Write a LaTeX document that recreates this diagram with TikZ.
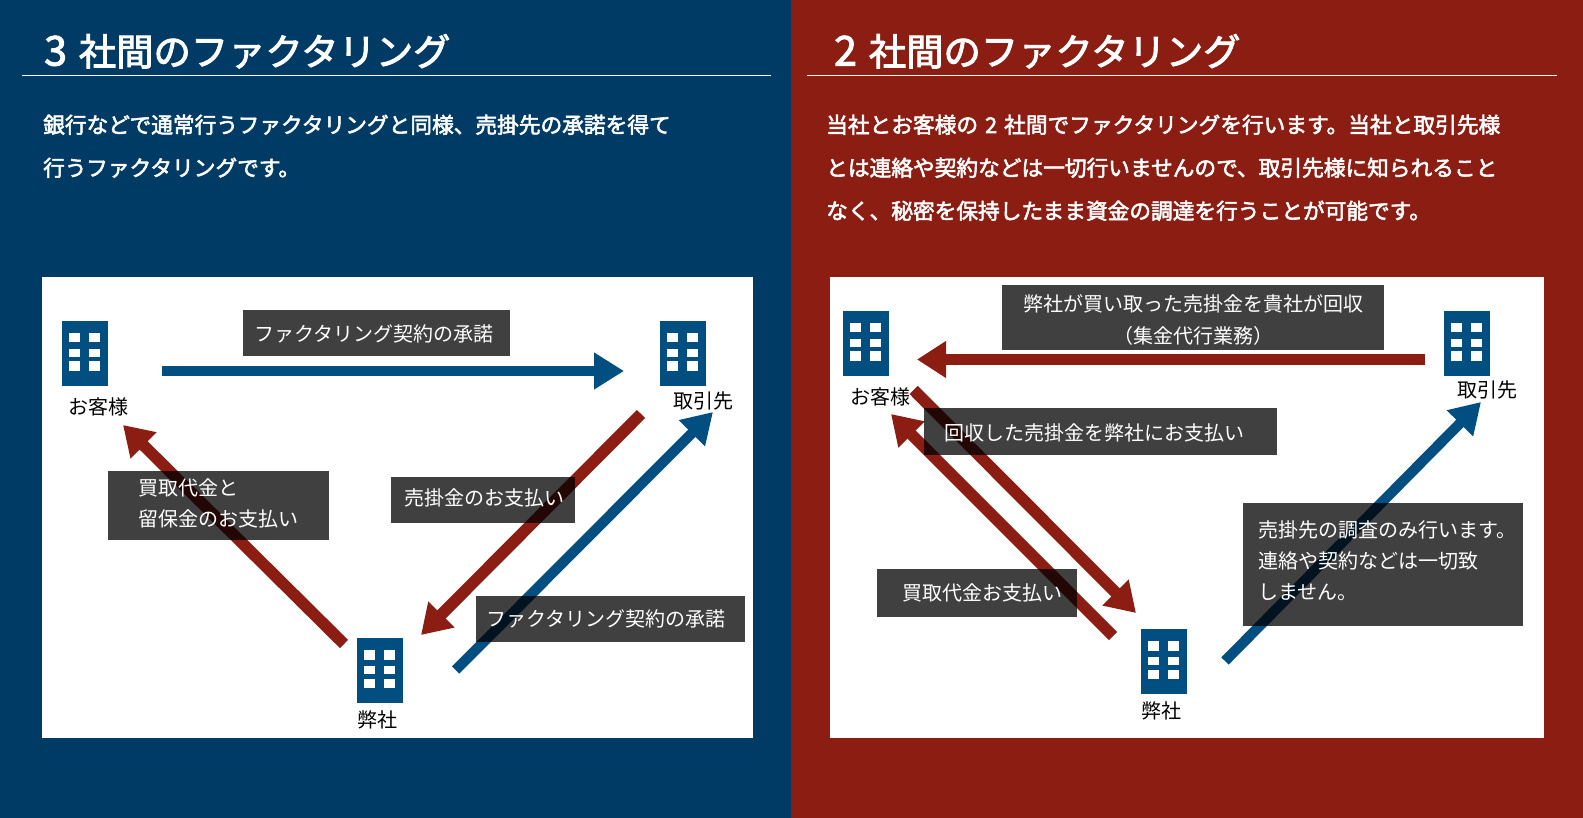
\documentclass[tikz,border=0pt]{standalone}
\usepackage{fontspec}
\setmainfont{Noto Sans CJK JP}
\newfontfamily\semibold[FakeBold=2.5]{Noto Sans CJK JP}
\usetikzlibrary{arrows.meta}
\definecolor{navybg}{HTML}{003B66}
\definecolor{redbg}{HTML}{8C1D12}
\definecolor{arrowblue}{HTML}{004F80}
\tikzset{
  panel/.style={fill=#1,draw=none},
  sheet/.style={fill=white,draw=none},
  rulew/.style={draw=white,line width=1pt},
  titletext/.style={text=white,inner sep=0pt,anchor=base west,font=\fontsize{37.3}{37.3}\selectfont\semibold},
  bodytext/.style={text=white,inner sep=0pt,anchor=base west,font=\fontsize{21.7}{21.7}\selectfont\semibold},
  lblbox/.style={fill=black,fill opacity=.75,draw=none,inner sep=0pt,anchor=north west,minimum width=#1},
  lbltext/.style={text=white,inner sep=0pt,anchor=base west,font=\fontsize{20}{20}\selectfont},
  nametext/.style={text=black,inner sep=0pt,anchor=base west,font=\fontsize{20}{20}\selectfont},
  bldg/.style={fill=arrowblue,draw=none,inner sep=0pt,minimum width=45.5pt,minimum height=64.5pt,anchor=north west},
  flowblue/.style={draw=arrowblue,line width=10.3pt,-{Triangle[length=30pt,width=35pt,sharp]}},
  flowred/.style={draw=redbg,line width=11.6pt,-{Triangle[length=29pt,width=35pt,sharp]}},
}
\newcommand{\bldgat}[3]{%
  \node[bldg] (#1) at (#2,#3) {};
  \foreach \wx in {6.5,26.5}\foreach \wy/\wh in {12/9.5,28/8,40.5/9.5}
    \fill[white] ([xshift=\wx pt,yshift=-\wy pt]#1.north west) rectangle ++(11pt,-\wh pt);
}
\begin{document}
\begin{tikzpicture}[x=1pt,y=-1pt]
\useasboundingbox (0,0) rectangle (1583,818);
\fill[panel=navybg] (0,0) rectangle (791,818);
\fill[panel=redbg] (791,0) rectangle (1583,818);
\fill[sheet] (42,277) rectangle (753,738);
\fill[sheet] (830,277) rectangle (1544,738);
% headings
\node[titletext] (t1) at (44,65.5) {{\fontsize{41}{41}\selectfont 3}\hspace{12pt}社間のファクタリング};
\node[titletext] (t2) at (834,65.5) {{\fontsize{41}{41}\selectfont 2}\hspace{12pt}社間のファクタリング};
\coordinate (r1a) at (22,75.5); \coordinate (r1b) at (771,75.5);
\coordinate (r2a) at (807,75.5); \coordinate (r2b) at (1557,75.5);
\draw[rulew] (r1a) -- (r1b);
\draw[rulew] (r2a) -- (r2b);
\node[bodytext] (b1) at (43,133) {銀行などで通常行うファクタリングと同様、売掛先の承諾を得て};
\node[bodytext] (b2) at (43,176) {行うファクタリングです。};
\node[bodytext] (b3) at (826,133) {当社とお客様の\hspace{7pt}2\hspace{7pt}社間でファクタリングを行います。当社と取引先様};
\node[bodytext] (b4) at (826,176) {とは連絡や契約などは一切行いませんので、取引先様に知られること};
\node[bodytext] (b5) at (826,219) {なく、秘密を保持したまま資金の調達を行うことが可能です。};
% buildings
\bldgat{lc}{62}{321}
\bldgat{lt}{660}{321}
\bldgat{ls}{357}{638}
\bldgat{rc}{843}{311}
\bldgat{rt}{1444}{311}
\bldgat{rs}{1141}{629}
% arrows
\coordinate (a1s) at (162,371); \coordinate (a1e) at (624,371);
\coordinate (a2s) at (344,644); \coordinate (a2e) at (123,425);
\coordinate (a3s) at (641,414); \coordinate (a3e) at (421,635);
\coordinate (a4s) at (455.7,670); \coordinate (a4e) at (713,412);
\coordinate (a5s) at (1425,359.5); \coordinate (a5e) at (917,359.5);
\coordinate (a6s) at (1113,636); \coordinate (a6e) at (891,414);
\coordinate (a7s) at (913.7,390); \coordinate (a7e) at (1136,613);
\coordinate (a8s) at (1225,661); \coordinate (a8e) at (1481,402);
\draw[flowblue] (a1s) -- (a1e);
\draw[flowred] (a2s) -- (a2e);
\draw[flowred] (a3s) -- (a3e);
\draw[flowblue] (a4s) -- (a4e);
\draw[flowred] (a5s) -- (a5e);
\draw[flowred] (a6s) -- (a6e);
\draw[flowred] (a7s) -- (a7e);
\draw[flowblue] (a8s) -- (a8e);
% label boxes
\node[lblbox=267pt,minimum height=46pt] (x1) at (243,310) {};
\node[lblbox=221pt,minimum height=69pt] (x2) at (108,471) {};
\node[lblbox=184pt,minimum height=46pt] (x3) at (391,477) {};
\node[lblbox=269pt,minimum height=46pt] (x4) at (476,596) {};
\node[lblbox=382pt,minimum height=65pt] (x5) at (1002,285) {};
\node[lblbox=353pt,minimum height=47pt] (x6) at (924,408) {};
\node[lblbox=200pt,minimum height=48pt] (x7) at (877,569) {};
\node[lblbox=280pt,minimum height=123pt] (x8) at (1243,503) {};
% label texts
\node[lbltext] (y1) at (254,342) {ファクタリング契約の承諾};
\node[lbltext] (y2a) at (138,495) {買取代金と};
\node[lbltext] (y2b) at (138,526) {留保金のお支払い};
\node[lbltext] (y3) at (404,505) {売掛金のお支払い};
\node[lbltext] (y4) at (486,626) {ファクタリング契約の承諾};
\node[lbltext,anchor=base] (y5a) at (1193,312) {弊社が買い取った売掛金を貴社が回収};
\node[lbltext,anchor=base] (y5b) at (1193,344) {（集金代行業務）};
\node[lbltext] (y6) at (944,440) {回収した売掛金を弊社にお支払い};
\node[lbltext] (y7) at (902,600) {買取代金お支払い};
\node[lbltext] (y8a) at (1258,537) {売掛先の調査のみ行います。};
\node[lbltext] (y8b) at (1258,568) {連絡や契約などは一切致};
\node[lbltext] (y8c) at (1258,599) {しません。};
% names
\node[nametext] (n1) at (68,414) {お客様};
\node[nametext] (n2) at (673,408) {取引先};
\node[nametext] (n3) at (357.5,727) {弊社};
\node[nametext] (n4) at (850,404) {お客様};
\node[nametext] (n5) at (1457.5,398) {取引先};
\node[nametext] (n6) at (1141,718) {弊社};
\end{tikzpicture}
\end{document}
